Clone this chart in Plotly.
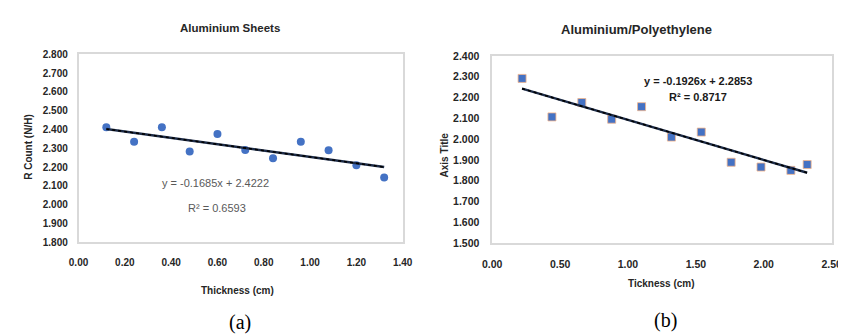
import plotly.graph_objects as go

# ---- data ----
x_a = [0.12, 0.24, 0.36, 0.48, 0.60, 0.72, 0.84, 0.96, 1.08, 1.20, 1.32]
y_a = [2.412, 2.335, 2.412, 2.282, 2.376, 2.291, 2.246, 2.335, 2.289, 2.210, 2.144]
slope_a, icpt_a = -0.1685, 2.4222

x_b = [0.22, 0.44, 0.66, 0.88, 1.10, 1.32, 1.54, 1.76, 1.98, 2.20, 2.32]
y_b = [2.292, 2.107, 2.176, 2.096, 2.156, 2.010, 2.034, 1.889, 1.866, 1.850, 1.878]
slope_b, icpt_b = -0.1926, 2.2853

ticks_a_y = [1.8, 1.9, 2.0, 2.1, 2.2, 2.3, 2.4, 2.5, 2.6, 2.7, 2.8]
ticks_a_x = [0.0, 0.2, 0.4, 0.6, 0.8, 1.0, 1.2, 1.4]
ticks_b_y = [1.5, 1.6, 1.7, 1.8, 1.9, 2.0, 2.1, 2.2, 2.3, 2.4]
ticks_b_x = [0.0, 0.5, 1.0, 1.5, 2.0, 2.5]

BLUE = "#4472C4"
FONT = "Liberation Sans"

def trend(xs, m, b):
    xe = [min(xs), max(xs)]
    return xe, [m * v + b for v in xe]

fig = go.Figure()

# ---- chart (a) ----
tx, ty = trend(x_a, slope_a, icpt_a)
fig.add_trace(go.Scatter(x=x_a, y=y_a, mode="markers", xaxis="x", yaxis="y",
                         marker=dict(color=BLUE, size=8, symbol="circle"), showlegend=False))
fig.add_trace(go.Scatter(x=tx, y=ty, mode="lines", xaxis="x", yaxis="y",
                         line=dict(color="#1d2c48", width=2.4), showlegend=False))
fig.add_trace(go.Scatter(x=tx, y=ty, mode="lines", xaxis="x", yaxis="y",
                         line=dict(color="#000000", width=1.6, dash="dot"), showlegend=False))

# ---- chart (b) ----
tx, ty = trend(x_b, slope_b, icpt_b)
fig.add_trace(go.Scatter(x=x_b, y=y_b, mode="markers", xaxis="x2", yaxis="y2",
                         marker=dict(color=BLUE, size=8, symbol="square",
                                     line=dict(color="#f2b48a", width=0.8)), showlegend=False))
fig.add_trace(go.Scatter(x=tx, y=ty, mode="lines", xaxis="x2", yaxis="y2",
                         line=dict(color="#1d2c48", width=2.4), showlegend=False))
fig.add_trace(go.Scatter(x=tx, y=ty, mode="lines", xaxis="x2", yaxis="y2",
                         line=dict(color="#000000", width=1.6, dash="dot"), showlegend=False))

def ax_common(size):
    return dict(showgrid=False, zeroline=False, showline=True, mirror=True,
                linecolor="#d9d9d9", linewidth=1.5,
                ticks="outside", tickcolor="rgba(0,0,0,0)",
                tickfont=dict(family=FONT, size=size, color="#262626", weight="bold"))

fig.update_layout(
    width=846, height=335,
    margin=dict(l=0, r=0, t=0, b=0),
    paper_bgcolor="white", plot_bgcolor="white",
    xaxis=dict(domain=[62/846, 394/846], range=[0, 1.4], tickvals=ticks_a_x,
               tickformat=".2f", anchor="y", ticklen=10, **ax_common(10)),
    yaxis=dict(domain=[1-236.7/335, 1-41.7/335], range=[1.8, 2.8], tickvals=ticks_a_y,
               tickformat=".3f", anchor="x", ticklen=7, **ax_common(10)),
    xaxis2=dict(domain=[485.7/846, 833.3/846], range=[0, 2.5], tickvals=ticks_b_x,
                tickformat=".2f", anchor="y2", ticklen=10, **ax_common(10.5)),
    yaxis2=dict(domain=[1-237.7/335, 1-43.5/335], range=[1.5, 2.4], tickvals=ticks_b_y,
                tickformat=".3f", anchor="x2", ticklen=9, **ax_common(10.5)),
)

def ann(text, x, y, size=11, color="#262626", bold=False, angle=0, family=FONT):
    if bold:
        text = "<b>" + text + "</b>"
    fig.add_annotation(text=text, xref="paper", yref="paper",
                       x=x/846, y=1-y/335, xanchor="center", yanchor="middle",
                       showarrow=False, textangle=angle,
                       font=dict(family=family, size=size, color=color))

# titles
ann("Aluminium Sheets", 217, 15, size=11.5, bold=True)
ann("Aluminium/Polyethylene", 633, 16.5, size=13, bold=True)
# axis titles
ann("R Count (N/H)", 10, 138, size=10, bold=True, angle=-90)
ann("Thickness (cm)", 225, 287, size=10, bold=True)
ann("Axis Title", 437, 146, size=10, bold=True, angle=-90)
ann("Tickness (cm)", 659, 279, size=10, bold=True)
# equations
ann("y = -0.1685x + 2.4222", 202, 175, size=11, color="#595959")
ann("R² = 0.6593", 204, 201.5, size=11, color="#595959")
ann("y = -0.1926x + 2.2853", 696, 69.5, size=11, color="#1a1a1a", bold=True)
ann("R² = 0.8717", 696, 86, size=11, color="#1a1a1a", bold=True)
# captions
ann("(a)", 227, 320, size=20, color="#000000", family="Liberation Serif")
ann("(b)", 663, 318, size=20, color="#000000", family="Liberation Serif")

fig.write_html("out.html")
